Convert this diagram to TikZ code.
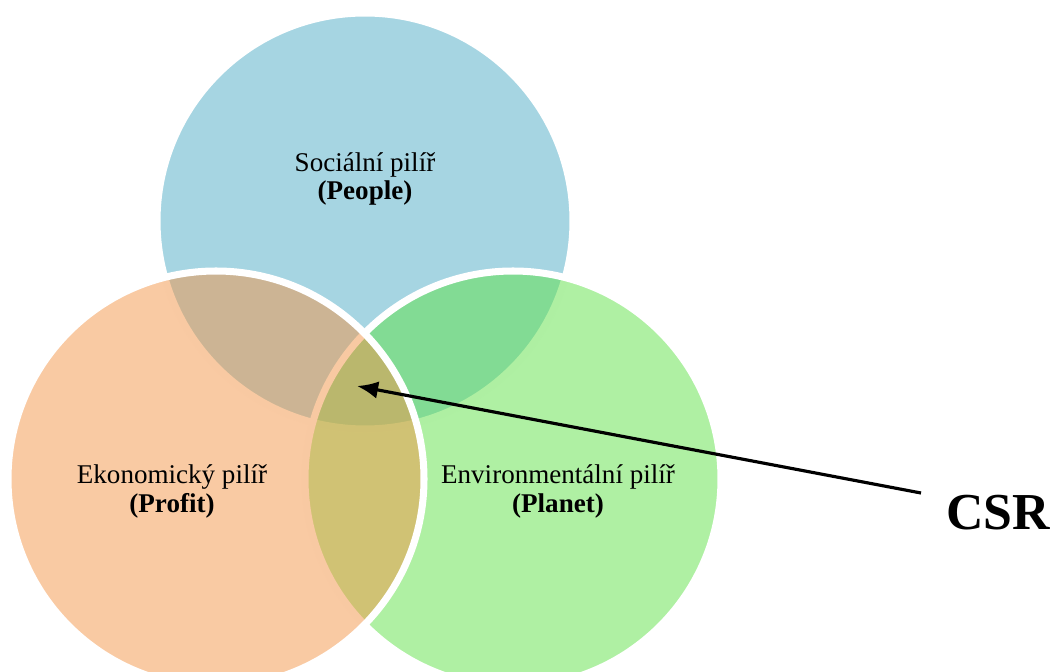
\documentclass[tikz,border=0pt]{standalone}
\usepackage{fontspec}
\setmainfont{Liberation Serif}
\usepackage{tikz, xcolor}
\usetikzlibrary{arrows.meta}
\definecolor{socblue}{RGB}{77,171,197}
\definecolor{ekoorange}{RGB}{243,149,71}
\definecolor{envgreen}{RGB}{95,225,71}
\tikzset{%
    % style for one pillar (a circle),
    % half transparent so that the overlaps mix
    pillar/.style={%
        fill opacity=0.5,
        draw opacity=1,
        draw=white,
        line width=4pt,
    },
    % style for the text inside a pillar
    % (base is the baseline of the last line)
    pillar text/.style={%
        align=center,
        anchor=base,
        inner sep=0pt,
        font=\fontsize{15.4}{16}\selectfont,
    },
    % style for the big label
    csr text/.style={%
        font=\fontsize{29.5}{30}\selectfont\bfseries,
        inner sep=0pt,
        anchor=base,
    },
    % style for the pointer
    pointer/.style={%
        line width=1.8pt,
        -{Latex[length=12pt,width=10pt]},
    },
}

\begin{document}
\begin{tikzpicture}[x=0.02cm, y=-0.02cm]
    % fix the bounding box to the size of the image
    \useasboundingbox (0,0) rectangle (1052,672);
    % radius of the pillars
    \def\rad{208}
    % draw pillars
    %% social pillar first, the others lie over it
    \path [pillar, fill=socblue]   (365,221) circle (\rad);
    \path [pillar, fill=envgreen]  (513,479) circle (\rad);
    \path [pillar, fill=ekoorange] (216,479) circle (\rad);
    % descriptions
    \node (soc) [pillar text] at (365,200)
          {Sociální pilíř\\\textbf{(People)}};
    \node (eko) [pillar text] at (172,512)
          {Ekonomický pilíř\\\textbf{(Profit)}};
    \node (env) [pillar text] at (558,512)
          {Environmentální pilíř\\\textbf{(Planet)}};
    % label and pointer to the common part
    \node (csr) [csr text] at (998,529) {CSR};
    \coordinate (core) at (357,386);
    \coordinate (tail) at (921,493);
    \draw [pointer] (tail) -- (core);
\end{tikzpicture}
\end{document}
